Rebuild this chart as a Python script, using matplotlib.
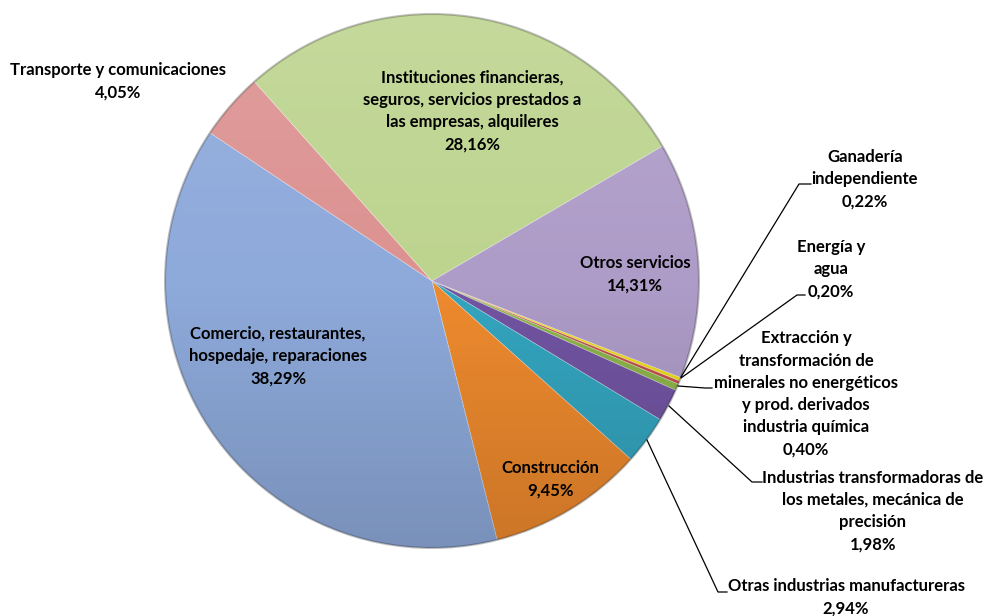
import numpy as np
import matplotlib.pyplot as plt
from matplotlib.patches import Circle

# ---------------------------------------------------------------
# Data (clockwise order, starting right after "Otros servicios")
# ---------------------------------------------------------------
sectores = [
    "Ganadería\nindependiente",
    "Energía y\nagua",
    "Extracción y\ntransformación de\nminerales no energéticos\ny prod. derivados\nindustria química",
    "Industrias transformadoras de\nlos metales, mecánica de\nprecisión",
    "Otras industrias manufactureras",
    "Construcción",
    "Comercio, restaurantes,\nhospedaje, reparaciones",
    "Transporte y comunicaciones",
    "Instituciones financieras,\nseguros, servicios prestados a\nlas empresas, alquileres",
    "Otros servicios",
]
porcentajes = [0.22, 0.20, 0.40, 1.98, 2.94, 9.45, 38.29, 4.05, 28.16, 14.31]
colores = ["#EEDB1E", "#C0504D", "#8DB44A", "#7254A2", "#34A5BF",
           "#EE8A2E", "#8EAADB", "#DC9291", "#BDD48F", "#AE9CC8"]

# label positions in pixels (x, y from top), leader line points
label_pos = [(865, 179), (831, 269), (806, 394), (873, 511), (846, 597),
             (550, 479), (278, 356), (118, 81), (472, 111), (635, 274)]
leaders = {
    0: [(681, 377), (799, 184), (811, 184)],
    1: [(681, 378), (797, 295), (805, 295)],
    2: [(678, 386), (705, 388), (712, 388)],
    3: [(669, 406), (752, 482), (762, 482)],
    4: [(647, 440), (718, 592), (727, 592)],
}

W, H = 991, 616
cx, cy, r = 432, H - 281, 267

plt.rcParams['font.family'] = ['Lato', 'DejaVu Sans']

fig = plt.figure(figsize=(W / 100, H / 100), dpi=100)
ax = fig.add_axes([0, 0, 1, 1])
ax.set_xlim(0, W)
ax.set_ylim(0, H)
ax.axis('off')

wedges, _ = ax.pie(porcentajes, colors=colores, startangle=-21.2,
                   counterclock=False, center=(cx, cy), radius=r,
                   wedgeprops=dict(edgecolor=(1, 1, 1, 0.3), linewidth=0.6))
ax.set_xlim(0, W)
ax.set_ylim(0, H)
ax.set_aspect('equal')

# soft shading: lighter at top, darker at bottom
grad = np.zeros((256, 2, 4))
t = np.linspace(0, 1, 256)[:, None]
grad[..., 0:3] = np.where(t[..., None] < 0.5, 1.0, 0.0)
grad[..., 3] = np.where(t < 0.5, (0.5 - t) * 0.22, (t - 0.5) * 0.30)
clip = Circle((cx, cy), r, transform=ax.transData)
im = ax.imshow(grad, extent=(cx - r, cx + r, cy - r, cy + r), origin='upper',
               aspect='auto', zorder=3)
im.set_clip_path(clip)
ax.add_patch(Circle((cx, cy), r, fill=False, edgecolor=(0, 0, 0, 0.25),
                    linewidth=1.5, zorder=4))

for i, (nombre, pct) in enumerate(zip(sectores, porcentajes)):
    x, y = label_pos[i]
    valor = f"{pct:.2f}%".replace('.', ',')
    ax.text(x, H - y, f"{nombre}\n{valor}",
            ha='center', va='center', fontsize=12, fontweight='bold',
            linespacing=1.48, color='black', zorder=6)

for i, pts in leaders.items():
    xs = [p[0] for p in pts]
    ys = [H - p[1] for p in pts]
    ax.plot(xs, ys, color='black', linewidth=0.9, zorder=5)

fig.savefig("out.png", dpi=100)
